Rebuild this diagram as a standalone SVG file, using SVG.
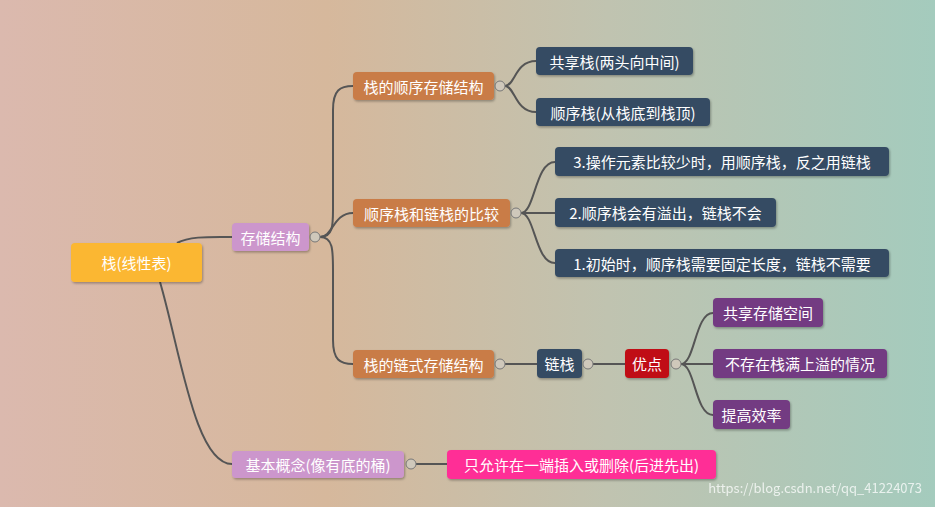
<svg xmlns="http://www.w3.org/2000/svg" width="935" height="507" viewBox="0 0 935 507">
<defs>
<linearGradient id="bg" x1="0" y1="0" x2="1" y2="0">
<stop offset="0" stop-color="#dbb9ae"/><stop offset="0.35" stop-color="#d6b89c"/><stop offset="0.65" stop-color="#c0c3b0"/><stop offset="1" stop-color="#a4cbbd"/>
</linearGradient>
<filter id="sh" x="-10%" y="-20%" width="130%" height="150%"><feDropShadow dx="1" dy="1.5" stdDeviation="0.8" flood-color="#000" flood-opacity="0.3"/></filter>
</defs>
<style>
text{font-family:"Noto Sans CJK SC","Liberation Sans",sans-serif;fill:#fff;font-size:15px;text-anchor:middle;dominant-baseline:central}
.n rect{filter:url(#sh)}
.c{fill:none;stroke:#555;stroke-width:2}
.k{fill:#cfc8bb;stroke:#777;stroke-width:1}
.o{fill:#c97c46}.b{fill:#344b63}.p{fill:#733a82}
</style>
<rect width="935" height="507" fill="url(#bg)"/>
<g id="connectors">
<path class="c" d="M177,243 C190,236 210,237 232,237"/>
<path class="c" d="M160,282 C180,350 195,464 232,464"/>
<path class="c" d="M320,237 C333,237 333,225 333,210 L333,110 C333,90 340,86 353,86"/>
<path class="c" d="M320,237 C333,237 333,213 353,213"/>
<path class="c" d="M320,237 C333,237 333,250 333,270 L333,340 C333,360 340,364 353,364"/>
<path class="c" d="M505,86 C515,86 515,61 536,61"/>
<path class="c" d="M505,86 C515,86 515,112 536,112"/>
<path class="c" d="M521,213 C535,213 535,162 555,162"/>
<path class="c" d="M521,213 L555,213"/>
<path class="c" d="M521,213 C535,213 535,263 555,263"/>
<path class="c" d="M505,364 L537,364"/>
<path class="c" d="M593,364 L625,364"/>
<path class="c" d="M681,364 C695,364 695,313 713,313"/>
<path class="c" d="M681,364 L713,364"/>
<path class="c" d="M681,364 C695,364 695,415 713,415"/>
<path class="c" d="M416,464 L447,464"/>
</g>
<g id="root" class="n"><rect x="71" y="243" width="131" height="39" rx="4" fill="#fbb733"/><text x="136.5" y="262.5" font-size="22">栈(线性表)</text></g>
<g id="storage" class="n"><rect x="232" y="223" width="77" height="28" rx="4" fill="#cc96cc"/><text x="270.5" y="237">存储结构</text><circle class="k" cx="315" cy="237" r="5"/></g>
<g id="concept" class="n"><rect x="232" y="451" width="172" height="27" rx="4" fill="#cc96cc"/><text x="318" y="464.5">基本概念(像有底的桶)</text><circle class="k" cx="411" cy="464" r="5"/></g>
<g id="only" class="n"><rect x="447" y="450" width="269" height="29" rx="4" fill="#ff2f96"/><text x="581.5" y="464.5">只允许在一端插入或删除(后进先出)</text></g>
<g id="seq" class="n"><rect class="o" x="353" y="72" width="141" height="28" rx="4"/><text x="423.5" y="86">栈的顺序存储结构</text><circle class="k" cx="500" cy="86" r="5"/></g>
<g id="cmp" class="n"><rect class="o" x="353" y="199" width="157" height="28" rx="4"/><text x="431.5" y="213">顺序栈和链栈的比较</text><circle class="k" cx="516" cy="213" r="5"/></g>
<g id="link" class="n"><rect class="o" x="353" y="350" width="141" height="28" rx="4"/><text x="423.5" y="364">栈的链式存储结构</text><circle class="k" cx="500" cy="364" r="5"/></g>
<g id="share" class="n"><rect class="b" x="536" y="47" width="157" height="28" rx="4"/><text x="614.5" y="61">共享栈(两头向中间)</text></g>
<g id="seqstack" class="n"><rect class="b" x="536" y="98" width="174" height="28" rx="4"/><text x="623" y="112">顺序栈(从栈底到栈顶)</text></g>
<g id="c3" class="n"><rect class="b" x="555" y="147" width="334" height="29" rx="4"/><text x="722" y="161.5">3.操作元素比较少时，用顺序栈，反之用链栈</text></g>
<g id="c2" class="n"><rect class="b" x="555" y="198" width="221" height="29" rx="4"/><text x="665.5" y="212.5">2.顺序栈会有溢出，链栈不会</text></g>
<g id="c1" class="n"><rect class="b" x="555" y="249" width="334" height="28" rx="4"/><text x="722" y="263">1.初始时，顺序栈需要固定长度，链栈不需要</text></g>
<g id="ls" class="n"><rect class="b" x="537" y="349" width="45" height="29" rx="4"/><text x="559.5" y="363.5">链栈</text><circle class="k" cx="588" cy="364" r="5"/></g>
<g id="adv" class="n"><rect x="625" y="349" width="44" height="29" rx="4" fill="#c00d12"/><text x="647" y="363.5">优点</text><circle class="k" cx="676" cy="364" r="5"/></g>
<g id="a1" class="n"><rect class="p" x="713" y="298" width="110" height="29" rx="4"/><text x="768" y="312.5">共享存储空间</text></g>
<g id="a2" class="n"><rect class="p" x="713" y="349" width="174" height="29" rx="4"/><text x="800" y="363.5">不存在栈满上溢的情况</text></g>
<g id="a3" class="n"><rect class="p" x="713" y="400" width="77" height="29" rx="4"/><text x="751.5" y="414.5">提高效率</text></g>
<text x="922" y="487" style="text-anchor:end;font-size:13px;fill:#fff;opacity:0.75">https://blog.csdn.net/qq_41224073</text>
</svg>
